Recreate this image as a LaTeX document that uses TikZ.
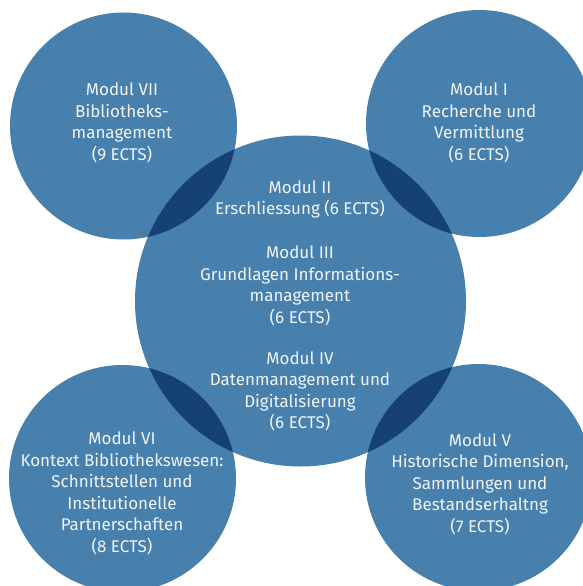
\documentclass[tikz,border=0pt]{standalone}
\usepackage{fontspec}
\setmainfont{Fira Sans}
\definecolor{circblue}{HTML}{4780AD}
\definecolor{overlap}{HTML}{164174}
\definecolor{txt}{HTML}{F0F4F8}
\tikzset{
  modtext/.style={text=txt, align=center, font=\fontsize{17}{21.5}\selectfont, inner sep=0pt},
  circ/.style={fill=circblue, draw=none}
}
\begin{document}
\begin{tikzpicture}[x=1pt,y=-1pt]
\useasboundingbox (0,0) rectangle (583,586);
\clip (0,0) rectangle (583,586);
\fill[white] (0,0) rectangle (583,586);
% circles
\def\rs{113.5}
\def\rb{165.5}
\fill[circ] (123.5,126) circle (\rs);
\fill[circ] (479.5,123.5) circle (\rs);
\fill[circ] (122.5,478.5) circle (\rs);
\fill[circ] (478.5,477.5) circle (\rs);
\fill[circ] (300.5,301) circle (\rb);
% overlaps
\begin{scope}
  \clip (300.5,301) circle (\rb);
  \fill[overlap] (123.5,126) circle (\rs);
  \fill[overlap] (479.5,123.5) circle (\rs);
  \fill[overlap] (122.5,478.5) circle (\rs);
  \fill[overlap] (478.5,477.5) circle (\rs);
\end{scope}
% texts
\node[modtext] (m7) at (122,123) {Modul VII\\Bibliotheks-\\management\\(9 ECTS)};
\node[modtext] (m1) at (479,123) {Modul I\\Recherche und\\Vermittlung\\(6 ECTS)};
\node[modtext] (m2) at (300,199.5) {Modul II\\Erschliessung (6 ECTS)};
\node[modtext] (m3) at (300,286) {Modul III\\Grundlagen Informations-\\management\\(6 ECTS)};
\node[modtext] (m4) at (300,391.5) {Modul IV\\Datenmanagement und\\Digitalisierung\\(6 ECTS)};
\node[modtext] (m6) at (122,493.5) {Modul VI\\Kontext Bibliothekswesen:\\Schnittstellen und\\Institutionelle\\Partnerschaften\\(8 ECTS)};
\node[modtext] (m5) at (480,484) {Modul V\\Historische Dimension,\\Sammlungen und\\Bestandserhaltng\\(7 ECTS)};
\end{tikzpicture}
\end{document}
